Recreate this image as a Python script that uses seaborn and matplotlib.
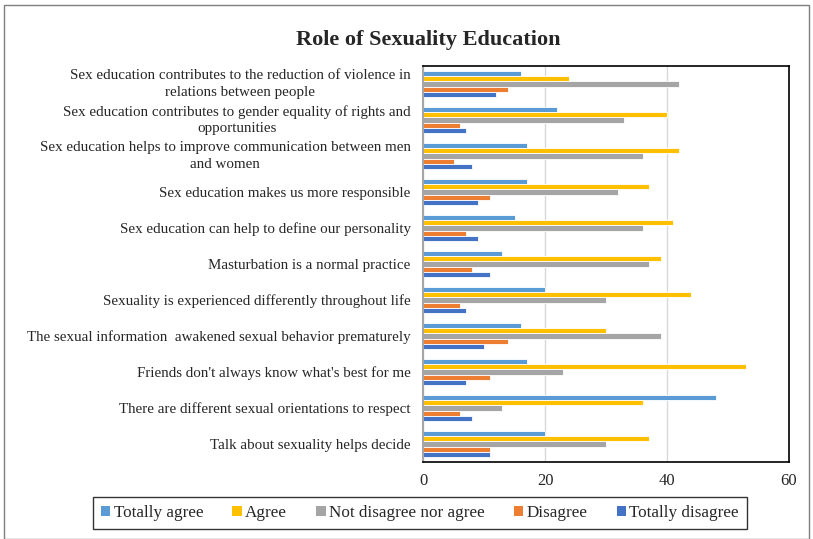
import matplotlib
matplotlib.use("Agg")
import matplotlib.pyplot as plt
import seaborn as sns
import pandas as pd
from matplotlib.patches import Patch, Rectangle

categories = [
    "Sex education contributes to the reduction of violence in\nrelations between people",
    "Sex education contributes to gender equality of rights and\nopportunities",
    "Sex education helps to improve communication between men\nand women",
    "Sex education makes us more responsible",
    "Sex education can help to define our personality",
    "Masturbation is a normal practice",
    "Sexuality is experienced differently throughout life",
    "The sexual information  awakened sexual behavior prematurely",
    "Friends don't always know what's best for me",
    "There are different sexual orientations to respect",
    "Talk about sexuality helps decide",
]
series_names = ["Totally agree", "Agree", "Not disagree nor agree", "Disagree", "Totally disagree"]
totally_agree = [16, 22, 17, 17, 15, 13, 20, 16, 17, 48, 20]
agree = [24, 40, 42, 37, 41, 39, 44, 30, 53, 36, 37]
neutral = [42, 33, 36, 32, 36, 37, 30, 39, 23, 13, 30]
disagree = [14, 6, 5, 11, 7, 8, 6, 14, 11, 6, 11]
totally_disagree = [12, 7, 8, 9, 9, 11, 7, 10, 7, 8, 11]
colors = ["#5B9BD5", "#FFC000", "#A5A5A5", "#ED7D31", "#4472C4"]
x_ticks = [0, 20, 40, 60]

rows = []
for name, vals in zip(series_names, [totally_agree, agree, neutral, disagree, totally_disagree]):
    for c, v in zip(categories, vals):
        rows.append({"category": c, "series": name, "value": v})
df = pd.DataFrame(rows)

sns.set_theme(style="white")
plt.rcParams["font.family"] = ["Liberation Serif", "DejaVu Serif"]

fig = plt.figure(figsize=(8.13, 5.39), dpi=100)
ax = fig.add_axes([423/813, 1-462/539, (789-423)/813, (462-66)/539])

sns.barplot(data=df, x="value", y="category", hue="series", order=categories,
            hue_order=series_names, palette=colors, width=0.74, orient="h",
            ax=ax, legend=False, saturation=1, linewidth=0.6, edgecolor="white")

ax.set_xlim(0, 60)
ax.set_ylim(10.5, -0.5)
ax.set_xticks(x_ticks)
ax.set_xticklabels([str(t) for t in x_ticks], fontsize=12)
ax.xaxis.grid(True, color="#D9D9D9", linewidth=1)
ax.set_axisbelow(True)
ax.set_xlabel("")
ax.set_ylabel("")
ax.tick_params(axis="x", length=0, pad=8)
ax.tick_params(axis="y", length=0, pad=9)
for lbl in ax.get_yticklabels():
    lbl.set_fontsize(10.8)
    if "\n" in lbl.get_text():
        lbl.set_multialignment("center")
        lbl.set_linespacing(1.35)
        lbl.set_verticalalignment("center")
for s in ["top", "right", "bottom"]:
    ax.spines[s].set_color("black")
    ax.spines[s].set_linewidth(1.2)
ax.spines["left"].set_color("#A6A6A6")
ax.spines["left"].set_linewidth(1.5)

fig.text(428/813, 1-40/539, "Role of Sexuality Education", ha="center", va="center",
         fontsize=16, fontweight="bold")

handles = [Patch(facecolor=c, edgecolor="none", label=n) for c, n in zip(colors, series_names)]
leg = fig.legend(handles=handles, loc="center", bbox_to_anchor=(420/813, 1-513/539), ncol=5,
                 fontsize=12.3, frameon=True, fancybox=False, edgecolor="black",
                 handlelength=0.55, handleheight=0.55, handletextpad=0.2, columnspacing=1.7,
                 borderpad=0.45)
leg.get_frame().set_linewidth(1.0)

fig.patches.append(Rectangle((4/813, 0), 1-8/813, 1-5/539, transform=fig.transFigure,
                             fill=False, edgecolor="#7F7F7F", linewidth=1))

fig.savefig("out.png", dpi=100)
